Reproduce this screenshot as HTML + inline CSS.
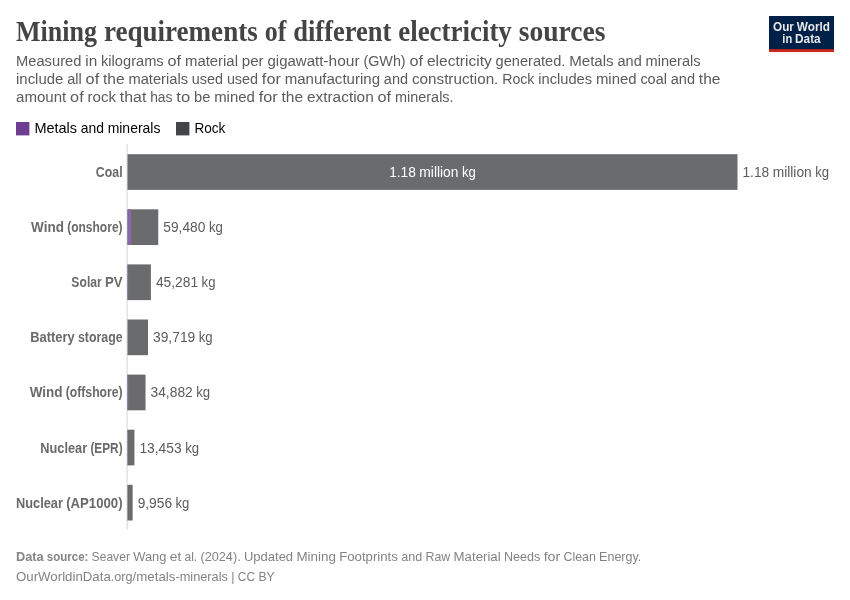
<!DOCTYPE html>
<html lang="en">
<head>
<meta charset="utf-8">
<title>Mining requirements of different electricity sources</title>
<style>
html,body{margin:0;padding:0;background:#fff;}
body{width:850px;height:600px;overflow:hidden;}
svg{display:block;}
text{font-family:"Liberation Sans", sans-serif;}
.title{font-family:"Liberation Serif", serif;font-size:29px;font-weight:700;fill:#444444;}
.sub{font-size:15.2px;fill:#5b5b5b;}
.lg{font-size:14.4px;fill:#000;}
.ent{font-size:14px;font-weight:700;fill:#6a6a6a;}
.val{font-size:14px;fill:#5b5b5b;}
.inl{font-size:14px;fill:#fff;}
.ft{font-size:13px;font-weight:700;fill:#858585;}
.ftn{font-size:13px;fill:#838383;}
.logo{font-size:12px;font-weight:700;fill:#e8e8e8;}
</style>
</head>
<body>
<svg width="850" height="600" viewBox="0 0 850 600">
<rect x="0" y="0" width="850" height="600" fill="#ffffff"/>
<rect x="769" y="16" width="65" height="36" fill="#002147"/>
<rect x="769" y="49.2" width="65" height="2.8" fill="#ce261e"/>
<rect x="16" y="122" width="13.4" height="13.4" fill="#6d3e91"/>
<rect x="176" y="122" width="13.4" height="13.4" fill="#444548"/>
<rect x="126.6" y="144.3" width="1" height="385.4" fill="#d4d4d4"/>
<rect x="127.5" y="154.20" width="610.00" height="35.7" fill="#6a6b6d"/>
<rect x="127.5" y="209.30" width="30.75" height="35.7" fill="#6a6b6d"/>
<rect x="127.5" y="209.30" width="3.62" height="35.7" fill="#8a65a7"/>
<rect x="127.5" y="264.40" width="23.41" height="35.7" fill="#6a6b6d"/>
<rect x="127.5" y="264.40" width="0.72" height="35.7" fill="#8a65a7"/>
<rect x="127.5" y="319.50" width="20.53" height="35.7" fill="#6a6b6d"/>
<rect x="127.5" y="374.60" width="18.03" height="35.7" fill="#6a6b6d"/>
<rect x="127.5" y="374.60" width="0.78" height="35.7" fill="#8a65a7"/>
<rect x="127.5" y="429.70" width="6.95" height="35.7" fill="#6a6b6d"/>
<rect x="127.5" y="429.70" width="0.36" height="35.7" fill="#8a65a7"/>
<rect x="127.5" y="484.80" width="5.15" height="35.7" fill="#6a6b6d"/>
<rect x="127.5" y="484.80" width="0.21" height="35.7" fill="#8a65a7"/>
<text class="title" y="40.60"><tspan x="16.00" textLength="80.95" lengthAdjust="spacingAndGlyphs">Mining</tspan> <tspan x="103.93" textLength="153.80" lengthAdjust="spacingAndGlyphs">requirements</tspan> <tspan x="264.70" textLength="21.60" lengthAdjust="spacingAndGlyphs">of</tspan> <tspan x="293.28" textLength="98.01" lengthAdjust="spacingAndGlyphs">different</tspan> <tspan x="398.26" textLength="113.55" lengthAdjust="spacingAndGlyphs">electricity</tspan> <tspan x="518.78" textLength="86.78" lengthAdjust="spacingAndGlyphs">sources</tspan></text>
<text class="sub" y="66.30"><tspan x="16.00" textLength="65.40" lengthAdjust="spacingAndGlyphs">Measured</tspan> <tspan x="85.24" textLength="11.97" lengthAdjust="spacingAndGlyphs">in</tspan> <tspan x="101.05" textLength="62.65" lengthAdjust="spacingAndGlyphs">kilograms</tspan> <tspan x="167.54" textLength="13.60" lengthAdjust="spacingAndGlyphs">of</tspan> <tspan x="184.98" textLength="53.01" lengthAdjust="spacingAndGlyphs">material</tspan> <tspan x="241.83" textLength="21.79" lengthAdjust="spacingAndGlyphs">per</tspan> <tspan x="267.46" textLength="55.90" lengthAdjust="spacingAndGlyphs">gigawatt</tspan><tspan x="323.36" textLength="36.27" lengthAdjust="spacingAndGlyphs">-hour</tspan> <tspan x="363.47" textLength="42.16" lengthAdjust="spacingAndGlyphs">(GWh)</tspan> <tspan x="409.47" textLength="13.60" lengthAdjust="spacingAndGlyphs">of</tspan> <tspan x="426.91" textLength="64.85" lengthAdjust="spacingAndGlyphs">electricity</tspan> <tspan x="495.60" textLength="69.79" lengthAdjust="spacingAndGlyphs">generated.</tspan> <tspan x="569.23" textLength="44.43" lengthAdjust="spacingAndGlyphs">Metals</tspan> <tspan x="617.49" textLength="24.22" lengthAdjust="spacingAndGlyphs">and</tspan> <tspan x="645.56" textLength="55.06" lengthAdjust="spacingAndGlyphs">minerals</tspan></text>
<text class="sub" y="84.30"><tspan x="16.00" textLength="47.35" lengthAdjust="spacingAndGlyphs">include</tspan> <tspan x="67.19" textLength="14.53" lengthAdjust="spacingAndGlyphs">all</tspan> <tspan x="85.57" textLength="13.60" lengthAdjust="spacingAndGlyphs">of</tspan> <tspan x="103.01" textLength="21.67" lengthAdjust="spacingAndGlyphs">the</tspan> <tspan x="128.51" textLength="59.50" lengthAdjust="spacingAndGlyphs">materials</tspan> <tspan x="191.86" textLength="31.18" lengthAdjust="spacingAndGlyphs">used</tspan> <tspan x="226.88" textLength="31.18" lengthAdjust="spacingAndGlyphs">used</tspan> <tspan x="261.89" textLength="18.97" lengthAdjust="spacingAndGlyphs">for</tspan> <tspan x="284.71" textLength="95.32" lengthAdjust="spacingAndGlyphs">manufacturing</tspan> <tspan x="383.87" textLength="24.22" lengthAdjust="spacingAndGlyphs">and</tspan> <tspan x="411.94" textLength="86.41" lengthAdjust="spacingAndGlyphs">construction.</tspan> <tspan x="502.19" textLength="32.20" lengthAdjust="spacingAndGlyphs">Rock</tspan> <tspan x="538.23" textLength="53.85" lengthAdjust="spacingAndGlyphs">includes</tspan> <tspan x="595.92" textLength="40.63" lengthAdjust="spacingAndGlyphs">mined</tspan> <tspan x="640.38" textLength="26.53" lengthAdjust="spacingAndGlyphs">coal</tspan> <tspan x="670.75" textLength="24.22" lengthAdjust="spacingAndGlyphs">and</tspan> <tspan x="698.82" textLength="21.67" lengthAdjust="spacingAndGlyphs">the</tspan></text>
<text class="sub" y="102.30"><tspan x="16.00" textLength="50.30" lengthAdjust="spacingAndGlyphs">amount</tspan> <tspan x="70.14" textLength="13.60" lengthAdjust="spacingAndGlyphs">of</tspan> <tspan x="87.58" textLength="28.44" lengthAdjust="spacingAndGlyphs">rock</tspan> <tspan x="119.86" textLength="26.48" lengthAdjust="spacingAndGlyphs">that</tspan> <tspan x="150.18" textLength="22.32" lengthAdjust="spacingAndGlyphs">has</tspan> <tspan x="176.34" textLength="13.84" lengthAdjust="spacingAndGlyphs">to</tspan> <tspan x="194.03" textLength="16.32" lengthAdjust="spacingAndGlyphs">be</tspan> <tspan x="214.19" textLength="40.63" lengthAdjust="spacingAndGlyphs">mined</tspan> <tspan x="258.65" textLength="18.97" lengthAdjust="spacingAndGlyphs">for</tspan> <tspan x="281.47" textLength="21.67" lengthAdjust="spacingAndGlyphs">the</tspan> <tspan x="306.97" textLength="66.74" lengthAdjust="spacingAndGlyphs">extraction</tspan> <tspan x="377.56" textLength="13.60" lengthAdjust="spacingAndGlyphs">of</tspan> <tspan x="394.99" textLength="58.60" lengthAdjust="spacingAndGlyphs">minerals.</tspan></text>
<text class="lg" y="133.10"><tspan x="34.40" textLength="42.62" lengthAdjust="spacingAndGlyphs">Metals</tspan> <tspan x="80.71" textLength="23.24" lengthAdjust="spacingAndGlyphs">and</tspan> <tspan x="107.63" textLength="52.82" lengthAdjust="spacingAndGlyphs">minerals</tspan></text>
<text class="lg" y="133.10"><tspan x="194.40" textLength="30.89" lengthAdjust="spacingAndGlyphs">Rock</tspan></text>
<text class="ent" y="177.00"><tspan x="95.85" textLength="26.75" lengthAdjust="spacingAndGlyphs">Coal</tspan></text>
<text class="val" y="177.00"><tspan x="742.50" textLength="26.68" lengthAdjust="spacingAndGlyphs">1.18</tspan> <tspan x="772.63" textLength="39.14" lengthAdjust="spacingAndGlyphs">million</tspan> <tspan x="815.23" textLength="13.88" lengthAdjust="spacingAndGlyphs">kg</tspan></text>
<text class="inl" y="177.00"><tspan x="389.19" textLength="26.68" lengthAdjust="spacingAndGlyphs">1.18</tspan> <tspan x="419.33" textLength="39.14" lengthAdjust="spacingAndGlyphs">million</tspan> <tspan x="461.93" textLength="13.88" lengthAdjust="spacingAndGlyphs">kg</tspan></text>
<text class="ent" y="232.00"><tspan x="31.06" textLength="32.83" lengthAdjust="spacingAndGlyphs">Wind</tspan> <tspan x="67.17" textLength="55.43" lengthAdjust="spacingAndGlyphs">(onshore)</tspan></text>
<text class="val" y="232.00"><tspan x="163.25" textLength="42.22" lengthAdjust="spacingAndGlyphs">59,480</tspan> <tspan x="208.92" textLength="13.88" lengthAdjust="spacingAndGlyphs">kg</tspan></text>
<text class="ent" y="287.00"><tspan x="71.36" textLength="30.38" lengthAdjust="spacingAndGlyphs">Solar</tspan> <tspan x="105.02" textLength="17.58" lengthAdjust="spacingAndGlyphs">PV</tspan></text>
<text class="val" y="287.00"><tspan x="155.91" textLength="42.22" lengthAdjust="spacingAndGlyphs">45,281</tspan> <tspan x="201.58" textLength="13.88" lengthAdjust="spacingAndGlyphs">kg</tspan></text>
<text class="ent" y="342.00"><tspan x="30.31" textLength="44.34" lengthAdjust="spacingAndGlyphs">Battery</tspan> <tspan x="77.93" textLength="44.67" lengthAdjust="spacingAndGlyphs">storage</tspan></text>
<text class="val" y="342.00"><tspan x="153.03" textLength="42.22" lengthAdjust="spacingAndGlyphs">39,719</tspan> <tspan x="198.70" textLength="13.88" lengthAdjust="spacingAndGlyphs">kg</tspan></text>
<text class="ent" y="397.00"><tspan x="29.63" textLength="32.83" lengthAdjust="spacingAndGlyphs">Wind</tspan> <tspan x="65.74" textLength="56.86" lengthAdjust="spacingAndGlyphs">(offshore)</tspan></text>
<text class="val" y="397.00"><tspan x="150.53" textLength="42.22" lengthAdjust="spacingAndGlyphs">34,882</tspan> <tspan x="196.20" textLength="13.88" lengthAdjust="spacingAndGlyphs">kg</tspan></text>
<text class="ent" y="453.00"><tspan x="40.26" textLength="46.85" lengthAdjust="spacingAndGlyphs">Nuclear</tspan> <tspan x="90.39" textLength="32.21" lengthAdjust="spacingAndGlyphs">(EPR)</tspan></text>
<text class="val" y="453.00"><tspan x="139.45" textLength="42.22" lengthAdjust="spacingAndGlyphs">13,453</tspan> <tspan x="185.13" textLength="13.88" lengthAdjust="spacingAndGlyphs">kg</tspan></text>
<text class="ent" y="508.00"><tspan x="16.01" textLength="46.85" lengthAdjust="spacingAndGlyphs">Nuclear</tspan> <tspan x="66.14" textLength="56.46" lengthAdjust="spacingAndGlyphs">(AP1000)</tspan></text>
<text class="val" y="508.00"><tspan x="137.65" textLength="34.39" lengthAdjust="spacingAndGlyphs">9,956</tspan> <tspan x="175.49" textLength="13.88" lengthAdjust="spacingAndGlyphs">kg</tspan></text>
<text class="ft" y="560.60"><tspan x="16.00" textLength="27.66" lengthAdjust="spacingAndGlyphs">Data</tspan> <tspan x="46.82" textLength="41.61" lengthAdjust="spacingAndGlyphs">source:</tspan></text>
<text class="ftn" y="560.60"><tspan x="91.60" textLength="38.32" lengthAdjust="spacingAndGlyphs">Seaver</tspan> <tspan x="133.25" textLength="33.20" lengthAdjust="spacingAndGlyphs">Wang</tspan> <tspan x="169.78" textLength="11.48" lengthAdjust="spacingAndGlyphs">et</tspan> <tspan x="184.58" textLength="12.60" lengthAdjust="spacingAndGlyphs">al.</tspan> <tspan x="200.51" textLength="40.17" lengthAdjust="spacingAndGlyphs">(2024).</tspan> <tspan x="244.01" textLength="49.08" lengthAdjust="spacingAndGlyphs">Updated</tspan> <tspan x="296.42" textLength="39.48" lengthAdjust="spacingAndGlyphs">Mining</tspan> <tspan x="339.23" textLength="58.66" lengthAdjust="spacingAndGlyphs">Footprints</tspan> <tspan x="401.22" textLength="21.00" lengthAdjust="spacingAndGlyphs">and</tspan> <tspan x="425.54" textLength="24.68" lengthAdjust="spacingAndGlyphs">Raw</tspan> <tspan x="453.55" textLength="47.13" lengthAdjust="spacingAndGlyphs">Material</tspan> <tspan x="504.00" textLength="36.36" lengthAdjust="spacingAndGlyphs">Needs</tspan> <tspan x="543.69" textLength="16.45" lengthAdjust="spacingAndGlyphs">for</tspan> <tspan x="563.46" textLength="32.33" lengthAdjust="spacingAndGlyphs">Clean</tspan> <tspan x="599.12" textLength="42.10" lengthAdjust="spacingAndGlyphs">Energy.</tspan></text>
<text class="ftn" y="580.90"><tspan x="16.00" textLength="94.79" lengthAdjust="spacingAndGlyphs">OurWorldinData</tspan><tspan x="110.79" textLength="21.78" lengthAdjust="spacingAndGlyphs">.org</tspan><tspan x="132.57" textLength="42.84" lengthAdjust="spacingAndGlyphs">/metals</tspan><tspan x="175.41" textLength="52.55" lengthAdjust="spacingAndGlyphs">-minerals</tspan> <tspan x="231.29" textLength="3.26" lengthAdjust="spacingAndGlyphs">|</tspan> <tspan x="237.87" textLength="17.19" lengthAdjust="spacingAndGlyphs">CC</tspan> <tspan x="258.39" textLength="16.22" lengthAdjust="spacingAndGlyphs">BY</tspan></text>
<text class="logo" y="30.80"><tspan x="773.09" textLength="20.86" lengthAdjust="spacingAndGlyphs">Our</tspan> <tspan x="796.87" textLength="33.04" lengthAdjust="spacingAndGlyphs">World</tspan></text>
<text class="logo" y="42.70"><tspan x="782.37" textLength="9.82" lengthAdjust="spacingAndGlyphs">in</tspan> <tspan x="795.10" textLength="25.54" lengthAdjust="spacingAndGlyphs">Data</tspan></text>
</svg>
</body>
</html>
